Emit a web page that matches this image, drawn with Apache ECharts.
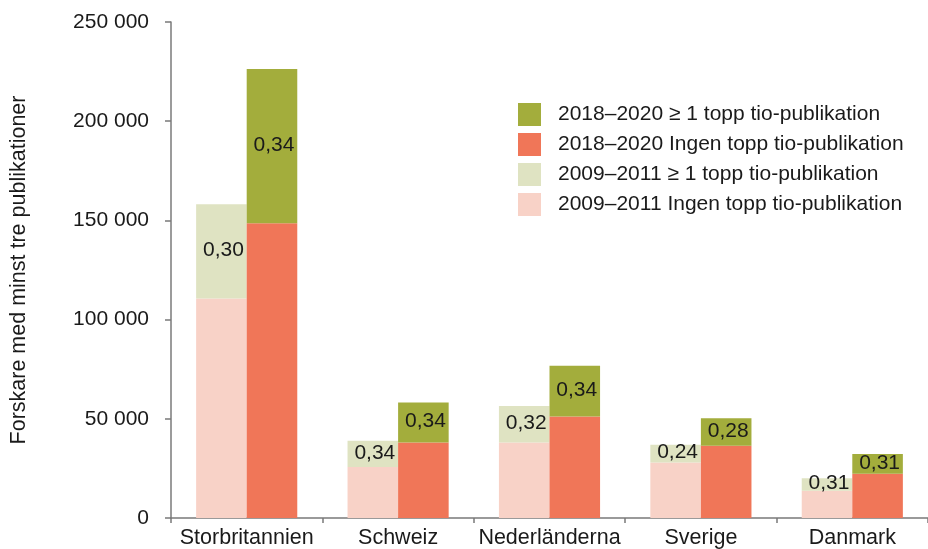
<!DOCTYPE html>
<html>
<head>
<meta charset="utf-8">
<script src="https://cdn.jsdelivr.net/npm/echarts@6/dist/echarts.min.js"></script>
<style>
html,body{margin:0;padding:0;background:#fff;}
#chart{width:928px;height:549px;}
</style>
</head>
<body>
<div id="chart"></div>
<script>
const categories = ['Storbritannien', 'Schweiz', 'Nederländerna', 'Sverige', 'Danmark'];
const noTop2009 = [110600, 25700, 38100, 28000, 13700];
const top2009 = [47600, 13200, 18300, 8900, 6300];
const noTop2018 = [148600, 38100, 51200, 36400, 22300];
const top2018 = [77700, 20100, 25600, 13900, 9900];
const share2009 = ['0,30', '0,34', '0,32', '0,24', '0,31'];
const share2018 = ['0,34', '0,34', '0,34', '0,28', '0,31'];
const yTicks = [0, 50000, 100000, 150000, 200000, 250000];

const FONT = '"Liberation Sans", Arial, sans-serif';
const axisColor = '#7a7a7a';

function fmt(v) {
  return String(v).replace(/\B(?=(\d{3})+(?!\d))/g, ' ');
}

const chart = echarts.init(document.getElementById('chart'), null, {renderer: 'canvas'});

const labelBase = {
  show: true,
  position: 'inside',
  color: '#1a1a1a',
  fontSize: 21,
  fontFamily: FONT,
  offset: [2, -1]
};

chart.setOption({
  animation: false,
  textStyle: {fontFamily: FONT},
  grid: {left: 167, top: 22, width: 768, height: 497, containLabel: false},
  legend: {
    orient: 'vertical',
    left: 518,
    top: 103,
    padding: 0,
    itemWidth: 23,
    itemHeight: 23,
    itemGap: 7,
    icon: 'rect',
    data: ['2018–2020 ≥ 1 topp tio-publikation', '2018–2020 Ingen topp tio-publikation',
           '2009–2011 ≥ 1 topp tio-publikation', '2009–2011 Ingen topp tio-publikation'],
    textStyle: {fontSize: 21, color: '#1a1a1a', fontFamily: FONT, padding: [0, 0, 0, 12]}
  },
  xAxis: {
    type: 'category',
    data: categories,
    axisLine: {lineStyle: {color: axisColor, width: 1.5}},
    axisTick: {show: true, alignWithLabel: false, length: 5, lineStyle: {color: axisColor, width: 1.5}},
    axisLabel: {fontSize: 21.5, color: '#1a1a1a', margin: 9, fontFamily: FONT, interval: 0}
  },
  yAxis: {
    type: 'value',
    min: yTicks[0],
    max: yTicks[yTicks.length - 1],
    interval: yTicks[1] - yTicks[0],
    name: 'Forskare med minst tre publikationer',
    nameLocation: 'middle',
    nameGap: 141,
    nameTextStyle: {fontSize: 21.5, color: '#1a1a1a', fontFamily: FONT},
    splitLine: {show: false},
    axisLine: {show: true, lineStyle: {color: axisColor, width: 1.5}},
    axisTick: {show: true, length: 6, lineStyle: {color: axisColor, width: 1.5}},
    axisLabel: {fontSize: 21, color: '#1a1a1a', margin: 22, fontFamily: FONT, formatter: fmt}
  },
  series: [
    {
      name: '2009–2011 Ingen topp tio-publikation',
      type: 'bar', stack: 'p2009',
      data: noTop2009,
      itemStyle: {color: '#F8D2C7'},
      barGap: '0%', barCategoryGap: '33.2%'
    },
    {
      name: '2009–2011 ≥ 1 topp tio-publikation',
      type: 'bar', stack: 'p2009',
      data: top2009,
      itemStyle: {color: '#DFE3C2'},
      label: Object.assign({}, labelBase, {formatter: p => share2009[p.dataIndex]}),
      barGap: '0%', barCategoryGap: '33.2%'
    },
    {
      name: '2018–2020 Ingen topp tio-publikation',
      type: 'bar', stack: 'p2018',
      data: noTop2018,
      itemStyle: {color: '#F07658'},
      barGap: '0%', barCategoryGap: '33.2%'
    },
    {
      name: '2018–2020 ≥ 1 topp tio-publikation',
      type: 'bar', stack: 'p2018',
      data: top2018,
      itemStyle: {color: '#A3AD3C'},
      label: Object.assign({}, labelBase, {formatter: p => share2018[p.dataIndex]}),
      barGap: '0%', barCategoryGap: '33.2%'
    }
  ]
});
</script>
</body>
</html>
